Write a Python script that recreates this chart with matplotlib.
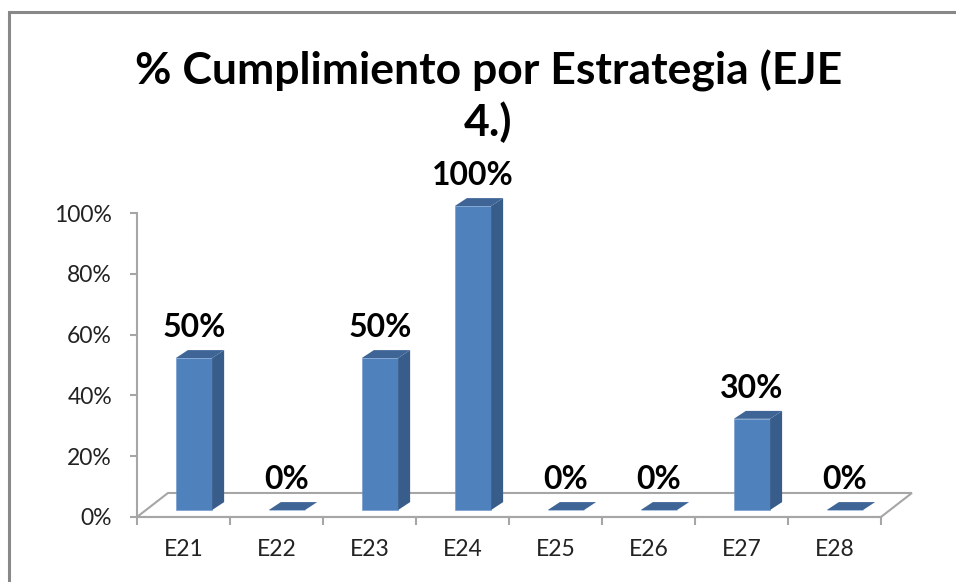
import matplotlib.pyplot as plt
from matplotlib.patches import Polygon, Rectangle

# data
categories = ['E21', 'E22', 'E23', 'E24', 'E25', 'E26', 'E27', 'E28']
values = [0.50, 0.0, 0.50, 1.00, 0.0, 0.0, 0.30, 0.0]
y_ticks = [0, 0.2, 0.4, 0.6, 0.8, 1.0]
y_labels = ['0%', '20%', '40%', '60%', '80%', '100%']
title = '% Cumplimiento por Estrategia (EJE\n4.)'

plt.rcParams['font.family'] = ['Lato', 'DejaVu Sans']

front_col = '#4F81BD'
side_col = '#385D8A'
top_col = '#3E6596'
grid_col = '#A6A6A6'

fig = plt.figure(figsize=(9.56, 5.82), dpi=100)
ax = fig.add_axes([0.1433, 0.1117, 0.7782, 0.5223])
ax.set_xlim(-0.5, len(categories) - 0.5)
ax.set_ylim(0, 1)

# 3D-ish floor
fdx, fdy = 0.333, 0.079
n = len(categories)
floor = Polygon([(-0.5, 0), (-0.5 + fdx, fdy), (n - 0.5 + fdx, fdy), (n - 0.5, 0)],
                closed=True, facecolor='white', edgecolor=grid_col, lw=1.5,
                clip_on=False, zorder=1)
ax.add_patch(floor)

# bars: front face via ax.bar, side and top faces as polygons
off_x, off_y = 0.113, 0.023
bw = 0.39
bdx, bdy = 0.129, 0.026
xs = [i + off_x for i in range(n)]
bars = ax.bar(xs, values, width=bw, bottom=off_y, color=front_col, zorder=3,
              edgecolor='#6B95C8', linewidth=0.4)
for b in bars:
    b.set_clip_on(False)
for x, v in zip(xs, values):
    x0, x1 = x - bw / 2, x + bw / 2
    top = v + off_y
    ax.add_patch(Polygon([(x1, off_y), (x1 + bdx, off_y + bdy), (x1 + bdx, top + bdy), (x1, top)],
                         closed=True, facecolor=side_col, edgecolor='none', zorder=3, clip_on=False))
    ax.add_patch(Polygon([(x0, top), (x0 + bdx, top + bdy), (x1 + bdx, top + bdy), (x1, top)],
                         closed=True, facecolor=top_col, edgecolor='none', zorder=4, clip_on=False))
    ax.annotate(f'{v:.0%}', xy=(x, top + bdy), xytext=(0, 6), textcoords='offset points',
                ha='center', va='bottom', fontsize=23, fontweight='bold', color='black',
                annotation_clip=False, zorder=5)

# axes styling
for s in ['top', 'right']:
    ax.spines[s].set_visible(False)
ax.spines['left'].set_color(grid_col)
ax.spines['bottom'].set_color(grid_col)
ax.spines['left'].set_linewidth(1.5)
ax.spines['bottom'].set_linewidth(1.5)
ax.set_yticks(y_ticks)
ax.set_yticklabels(y_labels)
ax.set_xticks(range(n))
ax.set_xticklabels(categories)
ax.set_xticks([i - 0.5 for i in range(n + 1)], minor=True)
ax.tick_params(axis='x', which='major', length=0, pad=16, labelsize=16.5, colors='#222222')
ax.tick_params(axis='x', which='minor', length=6, width=1.5, color=grid_col)
ax.tick_params(axis='y', length=5, width=1.5, color=grid_col, pad=13, labelsize=16.5)
ax.tick_params(axis='y', labelcolor='#222222')
ax.patch.set_alpha(0)

fig.text(0.511, 0.835, title, ha='center', va='center', fontsize=32,
         fontweight='bold', linespacing=1.27)

# outer chart frame
fig.patches.append(Rectangle((0.0094, -0.05), 1.1, 1.03, transform=fig.transFigure,
                             fill=False, edgecolor='#888888', lw=2.2))

fig.savefig('out.png', dpi=100)
